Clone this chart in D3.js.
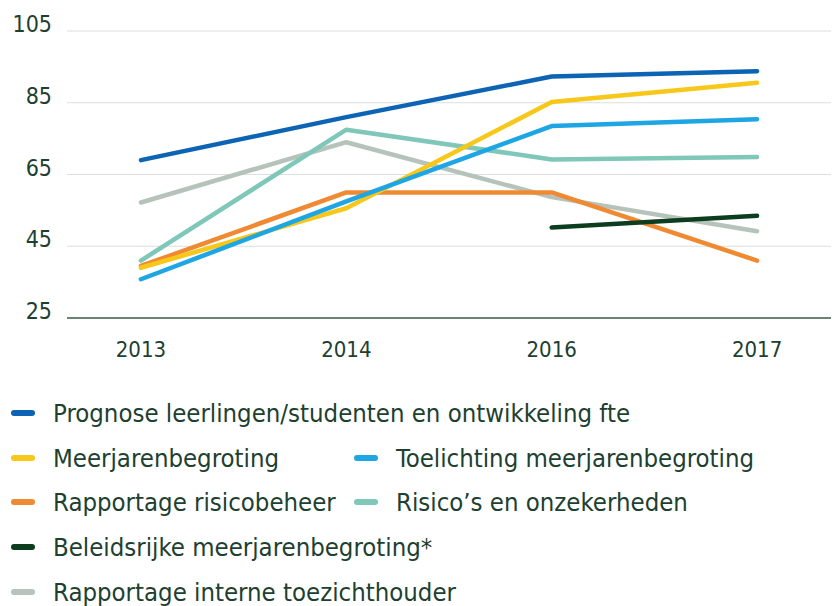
<!DOCTYPE html>
<html>
<head>
<meta charset="utf-8">
<script src="https://cdn.jsdelivr.net/npm/d3@7"></script>
<style>
  body { margin: 0; background: #fff; }
  #chart text { font-family: "DejaVu Sans Condensed", "Liberation Sans Narrow", sans-serif; fill: #1d4030; }
</style>
</head>
<body>
<div id="chart"></div>
<script>
// years on the x axis
const years = ["2013", "2014", "2016", "2017"];
const yTicks = [25, 45, 65, 85, 105];

// series values (null = no value that year)
const prognose = [69, 81, 92.3, 93.8];
const meerjaren = [39, 55.6, 85.2, 90.6];
const toelichting = [35.8, 57.5, 78.5, 80.4];
const risicobeheer = [39.5, 60, 60, 41];
const risicos = [41, 77.5, 69.2, 69.9];
const beleidsrijk = [null, null, 50.2, 53.5];
const toezicht = [57.2, 74, 58.7, 49.2];

const seriesNames = [
    "Prognose leerlingen/studenten en ontwikkeling fte",
    "Meerjarenbegroting",
    "Toelichting meerjarenbegroting",
    "Rapportage risicobeheer",
    "Risico\u2019s en onzekerheden",
    "Beleidsrijke meerjarenbegroting*",
    "Rapportage interne toezichthouder"
];
const seriesColors = ["#0d63b4", "#f7c81a", "#1ea6e4", "#f08a32", "#7fc7b9", "#0c3d1e", "#b6c3bb"];
const seriesValues = [prognose, meerjaren, toelichting, risicobeheer, risicos, beleidsrijk, toezicht];

// draw order (back to front)
const drawOrder = [6, 4, 3, 1, 2, 5, 0];

const width = 835, height = 606;
const margin = { top: 31, right: 4, bottom: 288, left: 67 };

let svg = d3.select("#chart")
    .append("svg")
    .attr("width", width)
    .attr("height", height);

let x = d3.scalePoint()
    .domain(years)
    .range([margin.left, width - margin.right])
    .padding(0.36);

let y = d3.scaleLinear()
    .domain([25, 105])
    .range([height - margin.bottom, margin.top]);

// grid lines
svg.append("g")
    .selectAll("line")
    .data(yTicks)
    .enter()
    .append("line")
    .attr("x1", margin.left)
    .attr("x2", width - margin.right)
    .attr("y1", d => y(d))
    .attr("y2", d => y(d))
    .attr("stroke", d => d === 25 ? "#3d5a49" : "#dcdfdd")
    .attr("stroke-width", d => d === 25 ? 1.6 : 1.2);

// y tick labels
svg.append("g")
    .selectAll("text")
    .data(yTicks)
    .enter()
    .append("text")
    .attr("x", 52)
    .attr("y", d => y(d) + 1)
    .attr("text-anchor", "end")
    .style("font-size", "23px")
    .text(d => d);

// x tick labels
svg.append("g")
    .selectAll("text")
    .data(years)
    .enter()
    .append("text")
    .attr("x", d => x(d))
    .attr("y", 357)
    .attr("text-anchor", "middle")
    .style("font-size", "22px")
    .text(d => d);

let line = d3.line()
    .defined(d => d !== null)
    .x((d, i) => x(years[i]))
    .y(d => y(d));

svg.append("g")
    .selectAll("path")
    .data(drawOrder)
    .enter()
    .append("path")
    .attr("d", i => line(seriesValues[i]))
    .attr("fill", "none")
    .attr("stroke", i => seriesColors[i])
    .attr("stroke-width", 4.5)
    .attr("stroke-linecap", "round")
    .attr("stroke-linejoin", "round");

// legend
const legendPos = [
    [12, 413], [12, 458], [355, 458], [12, 502], [355, 502], [12, 547], [12, 592]
];

let legend = svg.append("g")
    .selectAll("g")
    .data(seriesNames)
    .enter()
    .append("g")
    .attr("transform", (d, i) => "translate(" + legendPos[i][0] + "," + legendPos[i][1] + ")");

legend.append("line")
    .attr("x1", 2)
    .attr("x2", 20)
    .attr("stroke", (d, i) => seriesColors[i])
    .attr("stroke-width", 6)
    .attr("stroke-linecap", "round");

legend.append("text")
    .attr("x", 41)
    .attr("dy", "0.36em")
    .style("font-size", "25.5px")
    .text(d => d);
</script>
</body>
</html>
